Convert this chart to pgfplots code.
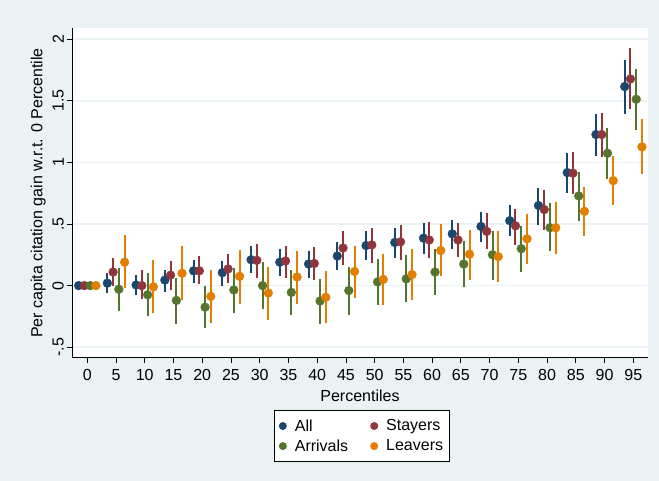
\documentclass[border=0pt]{standalone}
\usepackage{pgfplots}
\pgfplotsset{compat=1.18}
\usepackage{pgfplotstable}
\usepackage{fontspec}
\setmainfont{Liberation Sans}

\definecolor{bgc}{HTML}{EAF2F3}
\definecolor{cAll}{HTML}{1A476F}
\definecolor{cSta}{HTML}{90353B}
\definecolor{cArr}{HTML}{55752F}
\definecolor{cLea}{HTML}{E37E00}

% p = percentile, y = estimate, lo/hi = confidence interval
\pgfplotstableread{
p y lo hi
0 0 0 0
5 0.02 -0.06 0.10
10 0.005 -0.08 0.09
15 0.045 -0.05 0.13
20 0.12 0.02 0.205
25 0.105 0.0 0.20
30 0.21 0.10 0.32
35 0.19 0.075 0.295
40 0.175 0.06 0.28
45 0.24 0.13 0.35
50 0.325 0.205 0.44
55 0.35 0.225 0.47
60 0.385 0.255 0.505
65 0.42 0.295 0.535
70 0.48 0.35 0.60
75 0.527 0.40 0.657
80 0.65 0.495 0.795
85 0.917 0.755 1.08
90 1.226 1.055 1.396
95 1.615 1.396 1.834
}\allT

\pgfplotstableread{
p y lo hi
0 0 0 0
5 0.11 0.0 0.22
10 0.0 -0.11 0.125
15 0.085 -0.035 0.20
20 0.12 0.01 0.24
25 0.135 0.02 0.26
30 0.205 0.06 0.34
35 0.20 0.06 0.325
40 0.18 0.045 0.31
45 0.305 0.17 0.44
50 0.33 0.185 0.465
55 0.355 0.205 0.495
60 0.37 0.22 0.52
65 0.37 0.23 0.51
70 0.44 0.295 0.59
75 0.485 0.333 0.625
80 0.617 0.449 0.777
85 0.912 0.74 1.088
90 1.226 1.04 1.404
95 1.677 1.431 1.932
}\staT

\pgfplotstableread{
p y lo hi
0 0 0 0
5 -0.03 -0.21 0.14
10 -0.075 -0.25 0.10
15 -0.12 -0.31 0.06
20 -0.175 -0.345 0.0
25 -0.035 -0.22 0.14
30 0.0 -0.19 0.19
35 -0.055 -0.24 0.125
40 -0.125 -0.31 0.05
45 -0.04 -0.235 0.15
50 0.03 -0.155 0.215
55 0.055 -0.13 0.245
60 0.11 -0.075 0.295
65 0.175 -0.01 0.36
70 0.25 0.045 0.44
75 0.30 0.108 0.485
80 0.47 0.278 0.674
85 0.728 0.528 0.925
90 1.074 0.868 1.283
95 1.512 1.261 1.761
}\arrT

\pgfplotstableread{
p y lo hi
0 0 0 0
5 0.19 -0.02 0.41
10 -0.01 -0.225 0.205
15 0.10 -0.12 0.32
20 -0.087 -0.30 0.125
25 0.075 -0.15 0.285
30 -0.06 -0.28 0.155
35 0.07 -0.15 0.28
40 -0.095 -0.30 0.115
45 0.115 -0.10 0.325
50 0.05 -0.155 0.255
55 0.09 -0.115 0.295
60 0.285 0.075 0.50
65 0.255 0.045 0.455
70 0.235 0.03 0.44
75 0.38 0.173 0.585
80 0.47 0.26 0.68
85 0.603 0.40 0.80
90 0.852 0.652 1.055
95 1.126 0.904 1.356
}\leaT

\pgfplotsset{
  ci/.style={only marks, mark=*, mark size=4.4bp, color=#1, fill=#1,
    mark options={fill=#1, draw=#1},
    legend image code/.code={
      \path[fill=none, draw=none] (0bp,-4bp) rectangle (14.5bp,4bp);
      \fill[#1, draw=none] (4.5bp,0bp) circle[radius=4bp];},
    error bars/.cd, y dir=both, y explicit, error mark=none,
    error bar style={line width=2bp, color=#1}},
}

\begin{document}
\begin{tikzpicture}
\fill[bgc] (-72.3bp,-123.3bp) rectangle (586.7bp,357.7bp);
\begin{axis}[
  scale only axis,
  width=575.4bp, height=329.4bp,
  xmin=-2.6, xmax=97.5,
  ymin=-0.585, ymax=2.088,
  axis x line*=bottom, axis y line*=left,
  axis line style={-, black, line width=0.9bp},
  axis background/.style={fill=white},
  tick align=outside,
  major tick length=5bp,
  tick style={black, line width=0.8bp},
  xtick={0,5,...,95},
  ytick={-0.5,0,0.5,1,1.5,2},
  yticklabels={-.5,0,.5,1,1.5,2},
  yticklabel style={rotate=90, anchor=south},
  xticklabel style={yshift=-3bp},
  ymajorgrids,
  grid style={bgc, line width=1.6bp},
  /pgf/number format/assume math mode=true,
  tick label style={font=\fontsize{16bp}{18bp}\selectfont},
  label style={font=\fontsize{16bp}{18bp}\selectfont},
  xlabel={Percentiles},
  ylabel={Per capita citation gain w.r.t. 0 Percentile},
  xlabel style={yshift=-2.5bp},
  ylabel style={yshift=0bp},
  legend columns=2,
  legend style={at={(0.503,-0.159)}, anchor=north, draw=black,
    line width=0.8bp, fill=white,
    font=\fontsize{16bp}{18bp}\selectfont,
    inner xsep=4bp, inner ysep=7bp,
    nodes={inner sep=2bp},
    /tikz/every even column/.append style={column sep=19.5bp},
    row sep=3bp},
  legend cell align=left,
]
\addplot[ci=cAll] table[x expr=\thisrow{p}-1.5, y=y,
  y error plus expr=\thisrow{hi}-\thisrow{y},
  y error minus expr=\thisrow{y}-\thisrow{lo}] {\allT};
\addlegendentry{All}
\addplot[ci=cSta] table[x expr=\thisrow{p}-0.5, y=y,
  y error plus expr=\thisrow{hi}-\thisrow{y},
  y error minus expr=\thisrow{y}-\thisrow{lo}] {\staT};
\addlegendentry{Stayers}
\addplot[ci=cArr] table[x expr=\thisrow{p}+0.5, y=y,
  y error plus expr=\thisrow{hi}-\thisrow{y},
  y error minus expr=\thisrow{y}-\thisrow{lo}] {\arrT};
\addlegendentry{Arrivals}
\addplot[ci=cLea] table[x expr=\thisrow{p}+1.5, y=y,
  y error plus expr=\thisrow{hi}-\thisrow{y},
  y error minus expr=\thisrow{y}-\thisrow{lo}] {\leaT};
\addlegendentry{Leavers}
\end{axis}
\end{tikzpicture}
\end{document}
